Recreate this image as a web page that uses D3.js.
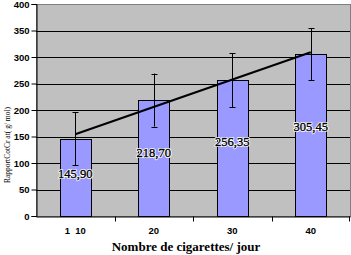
<!DOCTYPE html>
<html><head><meta charset="utf-8">
<script src="https://cdn.jsdelivr.net/npm/d3@7"></script>
<style>
html,body{margin:0;padding:0;background:#fff;}
svg{display:block;}
</style></head>
<body>
<svg id="chart" width="351" height="255"></svg>
<script>
const categories = ["1  10", "20", "30", "40"];
const cigarettes = [10, 20, 30, 40];
const values = [145.90, 218.70, 256.35, 305.45];
const errors = [50, 50, 51, 49];
const valueLabels = ["145,90", "218,70", "256,35", "305,45"];
const yTicks = [0, 50, 100, 150, 200, 250, 300, 350, 400];
const xTitle = "Nombre de cigarettes/ jour";
const yTitle = "RapportCotCr at( g/ mol)";

const svg = d3.select("#chart");
const m = {left: 36, right: 1, top: 4, bottom: 39};
const W = 351, H = 255;
const x = d3.scaleBand().domain(categories).range([m.left, W - m.right]).padding(0);
const y = d3.scaleLinear().domain([0, 400]).range([H - m.bottom, m.top]);

// plot background
svg.append("rect").attr("x", m.left).attr("y", m.top)
  .attr("width", W - m.right - m.left).attr("height", H - m.bottom - m.top)
  .attr("fill", "#c0c0c0").attr("stroke", "#808080").attr("stroke-width", 1)
  .attr("shape-rendering", "crispEdges");

// gridlines
svg.append("g").selectAll("line").data(yTicks.filter(d => d > 0 && d < 400)).join("line")
  .attr("x1", m.left).attr("x2", W - m.right)
  .attr("y1", d => Math.round(y(d)) + 0.5).attr("y2", d => Math.round(y(d)) + 0.5)
  .attr("stroke", "#000").attr("stroke-width", 1);

// bars
const bw = x.bandwidth() * 0.4;
svg.append("g").selectAll("rect").data(values).join("rect")
  .attr("x", (d, i) => Math.round(x(categories[i]) + x.bandwidth() / 2 - bw / 2) + 0.5)
  .attr("y", d => Math.round(y(d)) + 0.5)
  .attr("width", Math.round(bw))
  .attr("height", d => Math.round(y(0)) - Math.round(y(d)))
  .attr("fill", "#9999ff").attr("stroke", "#000").attr("stroke-width", 1);

// axes
const yAxis = d3.axisLeft(y).tickValues(yTicks).tickSize(5).tickPadding(2);
const gy = svg.append("g").attr("transform", `translate(${m.left + 0.5},0)`).call(yAxis);
gy.select(".domain").attr("stroke", "#000");
gy.selectAll("text").attr("font-family", "Liberation Sans, Arial, sans-serif")
  .attr("font-size", 9.5).attr("font-weight", "bold").attr("fill", "#000");

const xAxis = d3.axisBottom(x).tickSize(0).tickPadding(11);
const gx = svg.append("g").attr("transform", `translate(0,${Math.round(y(0)) + 0.5})`).call(xAxis);
gx.select(".domain").attr("stroke", "#000");
gx.selectAll("text").attr("font-family", "Liberation Sans, Arial, sans-serif")
  .attr("font-size", 9.5).attr("font-weight", "bold").attr("fill", "#000")
  .attr("xml:space", "preserve").style("white-space", "pre");
// x ticks at band boundaries
gx.append("g").selectAll("line").data(categories.slice(1)).join("line")
  .attr("x1", d => Math.round(x(d)) + 0.5).attr("x2", d => Math.round(x(d)) + 0.5)
  .attr("y1", 0).attr("y2", 5).attr("stroke", "#000");
gx.append("line").attr("x1", W - m.right - 0.5).attr("x2", W - m.right - 0.5)
  .attr("y1", 0).attr("y2", 5).attr("stroke", "#000");

// error bars
const eb = svg.append("g").attr("stroke", "#000").attr("stroke-width", 1);
values.forEach((v, i) => {
  const cx = Math.round(x(categories[i]) + x.bandwidth() / 2) + 0.5;
  eb.append("line").attr("x1", cx).attr("x2", cx).attr("y1", y(v + errors[i])).attr("y2", y(v - errors[i]));
  [v + errors[i], v - errors[i]].forEach(e => {
    eb.append("line").attr("x1", cx - 3).attr("x2", cx + 3)
      .attr("y1", Math.round(y(e)) + 0.5).attr("y2", Math.round(y(e)) + 0.5);
  });
});

// linear trend (least squares through the bar values)
const mx = d3.mean(cigarettes), my = d3.mean(values);
const slope = d3.sum(cigarettes, (c, i) => (c - mx) * (values[i] - my)) / d3.sum(cigarettes, c => (c - mx) ** 2);
const trend = c => my + slope * (c - mx);
const xc = i => x(categories[i]) + x.bandwidth() / 2;
svg.append("line")
  .attr("x1", xc(0)).attr("y1", y(trend(cigarettes[0])))
  .attr("x2", xc(3)).attr("y2", y(trend(cigarettes[3])))
  .attr("stroke", "#000").attr("stroke-width", 2);

// value labels: white halo layer, then black text
const lab = svg.append("g")
  .attr("text-anchor", "middle")
  .attr("font-family", "Liberation Serif, Times New Roman, serif")
  .attr("font-size", 12.5);
[["#fff", "#fff", 2], ["#000", "#000", 0.35]].forEach(([fill, stroke, sw]) => {
  lab.append("g").selectAll("text").data(values).join("text")
    .attr("x", (d, i) => xc(i))
    .attr("y", d => y(d * 0.55))
    .attr("dy", "0.35em")
    .attr("fill", fill).attr("stroke", stroke).attr("stroke-width", sw)
    .attr("stroke-linejoin", "round")
    .text((d, i) => valueLabels[i]);
});

// axis titles
svg.append("text").attr("x", 186).attr("y", 251)
  .attr("text-anchor", "middle")
  .attr("font-family", "Liberation Serif, Times New Roman, serif")
  .attr("font-size", 13).attr("font-weight", "bold").attr("fill", "#000")
  .text(xTitle);

svg.append("text").attr("transform", "translate(10,145) rotate(-90)")
  .attr("text-anchor", "middle")
  .attr("font-family", "Liberation Serif, Times New Roman, serif")
  .attr("font-size", 7.5).attr("fill", "#000")
  .text(yTitle);
</script>
</body></html>
